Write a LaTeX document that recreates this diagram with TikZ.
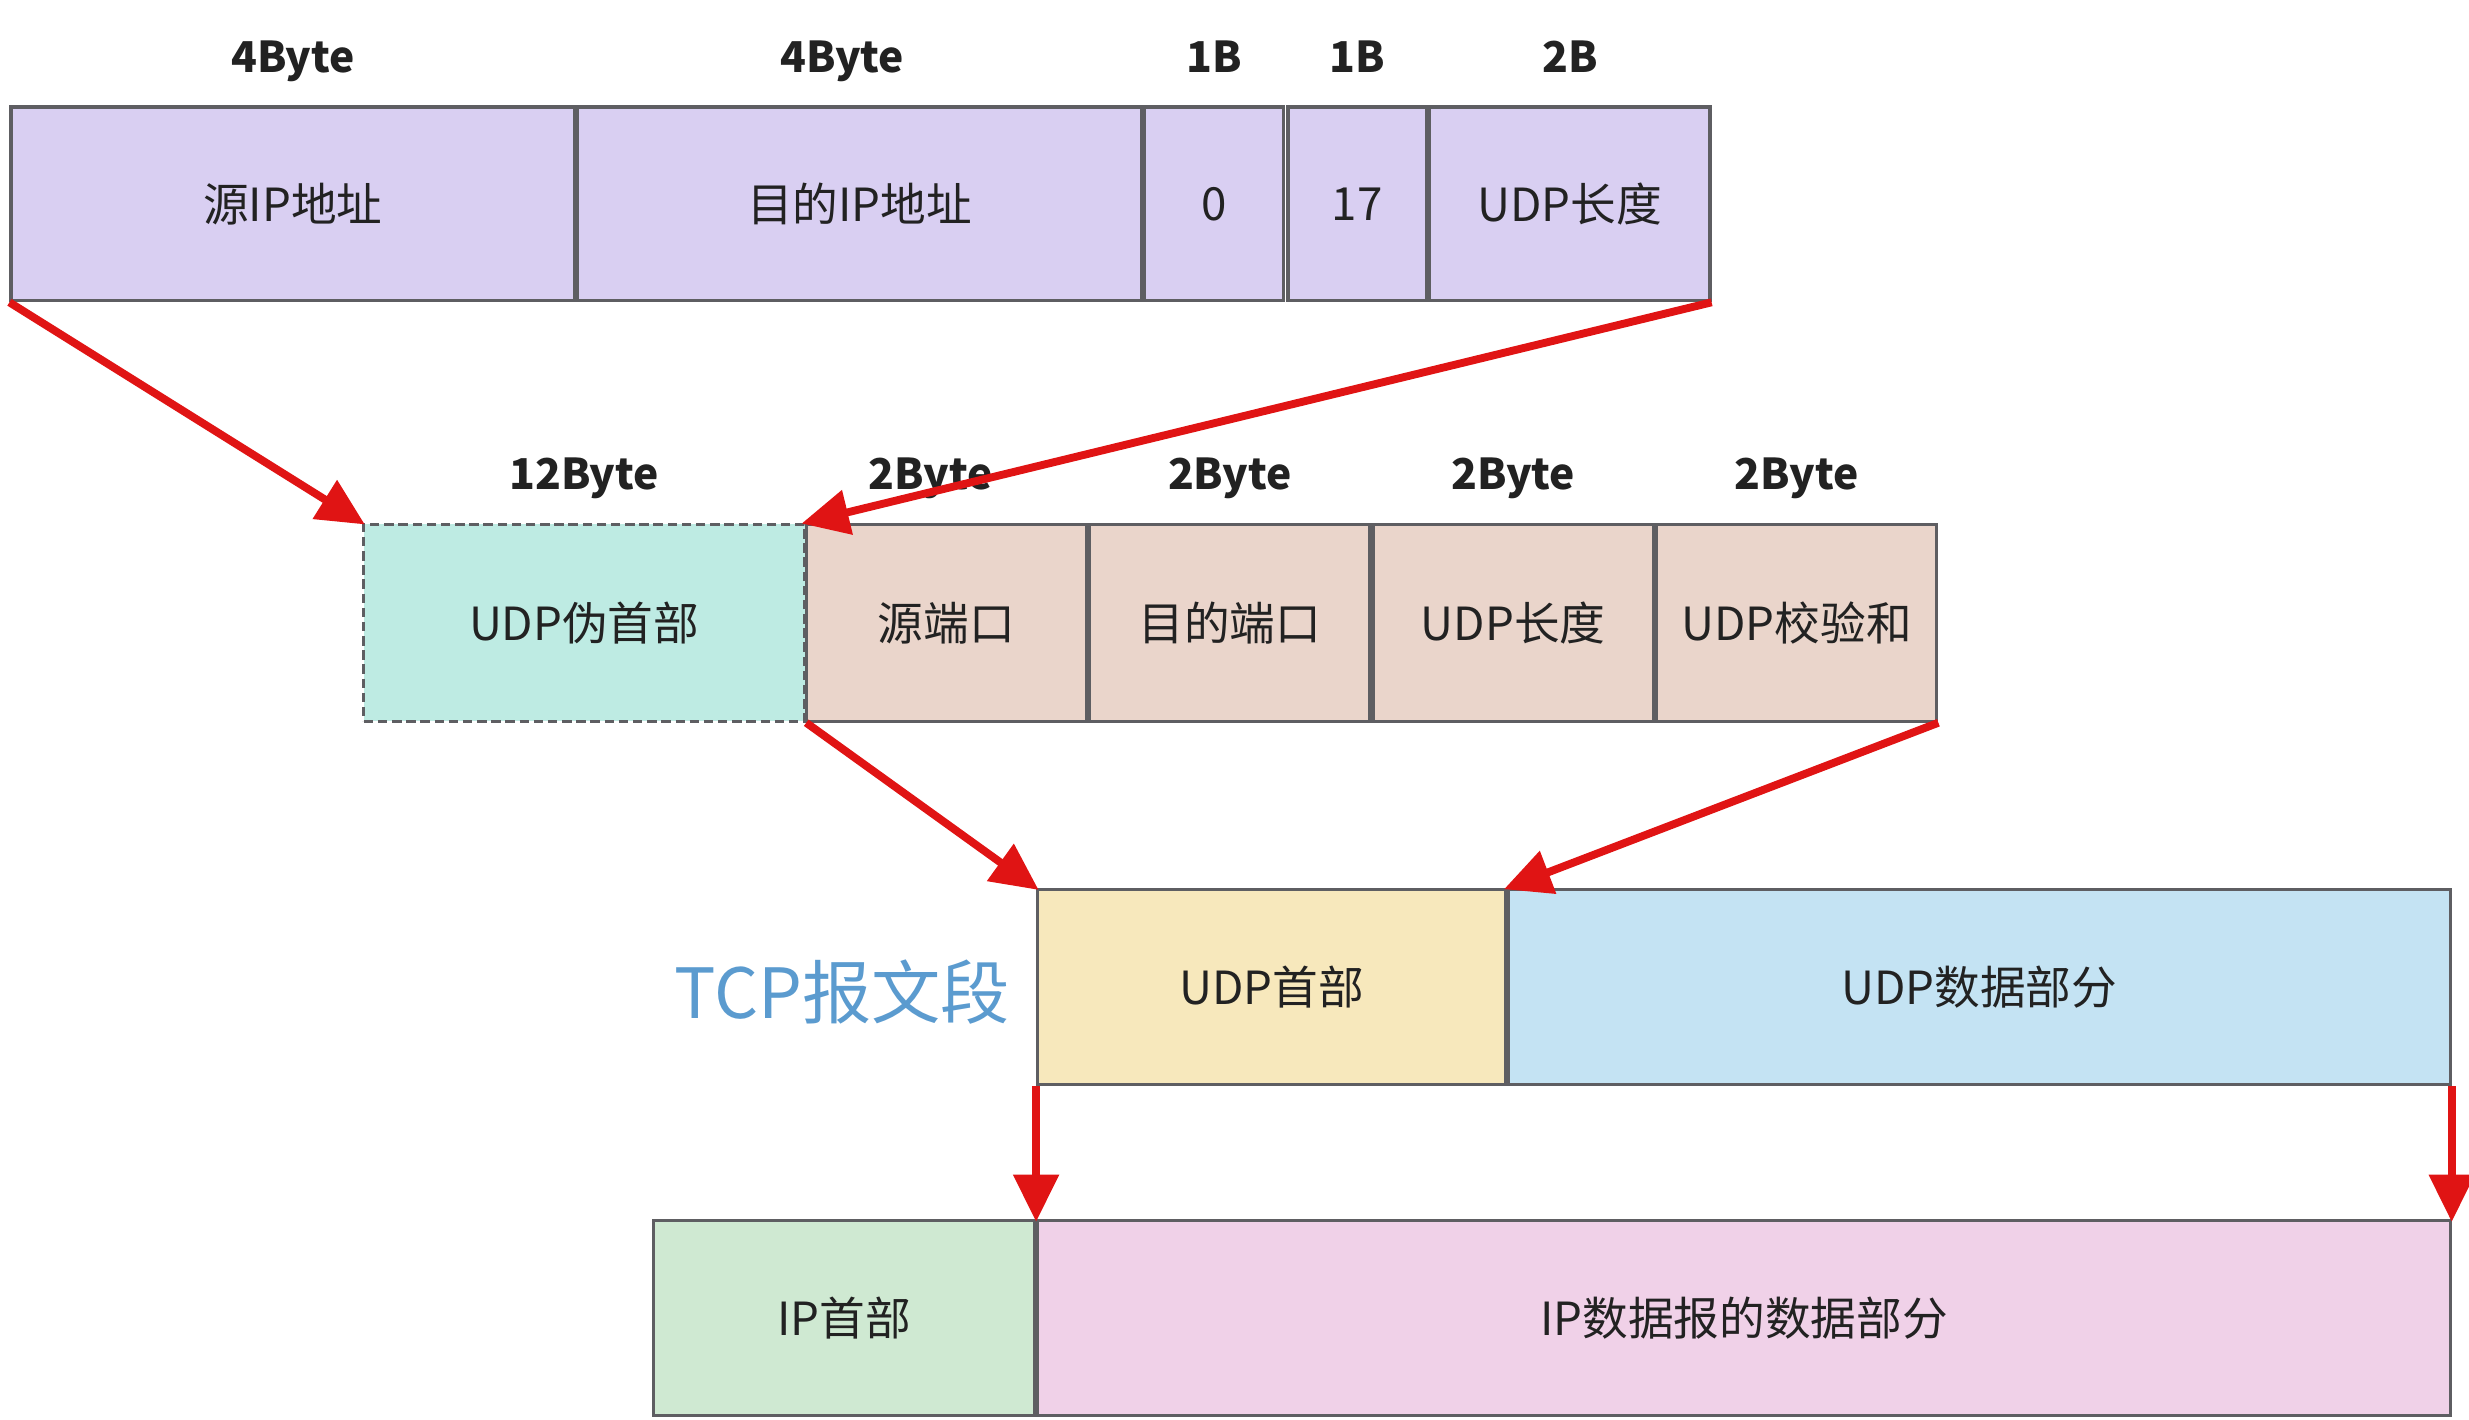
\documentclass[tikz,border=0pt]{standalone}
\usepackage{fontspec}
\setmainfont{Noto Sans CJK SC}
\newfontfamily\cjk{Noto Sans CJK SC}
\usetikzlibrary{arrows.meta}
\definecolor{bordergray}{HTML}{5E5E62}
\definecolor{lav}{HTML}{D9CFF2}
\definecolor{teal}{HTML}{BEEBE3}
\definecolor{pinkbrown}{HTML}{EAD5CB}
\definecolor{sand}{HTML}{F7E8BC}
\definecolor{skyb}{HTML}{C4E3F3}
\definecolor{mint}{HTML}{CFE9D2}
\definecolor{orchid}{HTML}{F0D1E8}
\definecolor{arrowred}{HTML}{E01414}
\definecolor{tcpblue}{HTML}{5B9BCF}
\definecolor{txt}{HTML}{222222}
\begin{document}
\begin{tikzpicture}[x=1pt,y=-1pt,
  fld/.style={draw=bordergray, line width=2pt, anchor=north west, inner sep=0pt,
    text=txt, font=\cjk\fontsize{29}{33}\selectfont},
  bytelab/.style={text=txt, font=\cjk\bfseries\fontsize{27}{30}\selectfont, inner sep=0pt, anchor=base},
  redarrow/.style={draw=arrowred, line width=5pt, -{Triangle[length=30pt,width=28pt]}, shorten >=-2pt}
]
\useasboundingbox (0,0) rectangle (1568,901.8);

% top row
\node[fld, fill=lav, minimum width=358pt, minimum height=123pt] (a1) at (6,67) {源IP地址};
\node[fld, fill=lav, minimum width=358pt, minimum height=123pt] (a2) at (366,67) {目的IP地址};
\node[fld, fill=lav, minimum width=88pt, minimum height=123pt] (a3) at (726,67) {0};
\node[fld, fill=lav, minimum width=88pt, minimum height=123pt] (a4) at (817,67) {17};
\node[fld, fill=lav, minimum width=178pt, minimum height=123pt] (a5) at (907,67) {UDP长度};
\node[bytelab] (la1) at ([yshift=21pt]a1.north) {4Byte};
\node[bytelab] (la2) at ([xshift=-11pt,yshift=21pt]a2.north) {4Byte};
\node[bytelab] (la3) at ([yshift=21pt]a3.north) {1B};
\node[bytelab] (la4) at ([yshift=21pt]a4.north) {1B};
\node[bytelab] (la5) at ([yshift=21pt]a5.north) {2B};

% second row
\node[fld, fill=teal, dash pattern=on 6pt off 3pt, minimum width=280pt, minimum height=125pt] (p) at (230,332) {UDP伪首部};
\node[fld, fill=pinkbrown, minimum width=178pt, minimum height=125pt] (s1) at (511,332) {源端口};
\node[fld, fill=pinkbrown, minimum width=178pt, minimum height=125pt] (s2) at (691,332) {目的端口};
\node[fld, fill=pinkbrown, minimum width=178pt, minimum height=125pt] (s3) at (871,332) {UDP长度};
\node[fld, fill=pinkbrown, minimum width=178pt, minimum height=125pt] (s4) at (1051,332) {UDP校验和};
\node[bytelab] (lp) at ([yshift=21pt]p.north) {12Byte};
\node[bytelab] (ls1) at ([xshift=-10pt,yshift=21pt]s1.north) {2Byte};
\node[bytelab] (ls2) at ([yshift=21pt]s2.north) {2Byte};
\node[bytelab] (ls3) at ([yshift=21pt]s3.north) {2Byte};
\node[bytelab] (ls4) at ([yshift=21pt]s4.north) {2Byte};

% third row
\node[fld, fill=sand, minimum width=297pt, minimum height=124pt] (t1) at (658,564) {UDP首部};
\node[fld, fill=skyb, minimum width=598pt, minimum height=124pt] (t2) at (957,564) {UDP数据部分};
\node[text=tcpblue, font=\cjk\fontsize{44}{48}\selectfont, inner sep=0pt] (tcp) at (535,630) {TCP报文段};

% fourth row
\node[fld, fill=mint, minimum width=242pt, minimum height=124pt] (i1) at (414,774) {IP首部};
\node[fld, fill=orchid, minimum width=897pt, minimum height=124pt] (i2) at (658,774) {IP数据报的数据部分};

% arrows
\draw[redarrow] (a1.south west) -- (p.north west);
\draw[redarrow] (a5.south east) -- (s1.north west);
\draw[redarrow] (p.south east) -- (t1.north west);
\draw[redarrow] (s4.south east) -- (t2.north west);
\draw[redarrow] (t1.south west) -- (i2.north west);
\draw[redarrow] (t2.south east) -- (i2.north east);
\end{tikzpicture}
\end{document}
